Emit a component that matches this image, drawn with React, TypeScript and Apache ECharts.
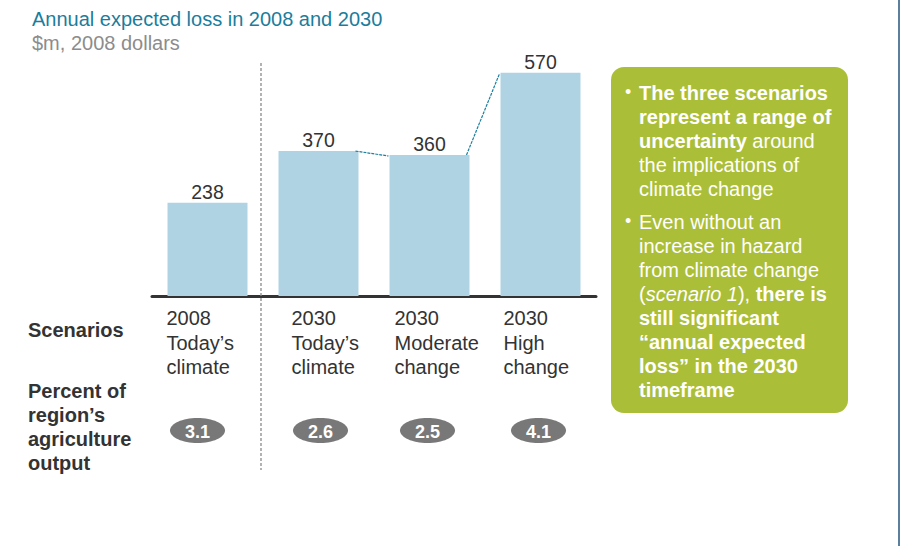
import React, { useEffect, useRef } from "react";
import * as echarts from "echarts";

const categories = [
  "2008\nToday’s\nclimate",
  "2030\nToday’s\nclimate",
  "2030\nModerate\nchange",
  "2030\nHigh\nchange",
];
const expectedLoss = [238, 370, 360, 570];
const agricultureShare = [3.1, 2.6, 2.5, 4.1];
const connectorPairs = [
  [1, 2],
  [2, 3],
];
const titleText = "Annual expected loss in 2008 and 2030";
const unitText = "$m, 2008 dollars";
const scenarioHeader = "Scenarios";
const shareHeader = "Percent of\nregion’s\nagriculture\noutput";
const noteParagraph1 =
  "{b|The three scenarios}\n{b|represent a range of}\n{b|uncertainty}{n| around}\n{n|the implications of}\n{n|climate change}";
const noteParagraph2 =
  "{n|Even without an}\n{n|increase in hazard}\n{n|from climate change}\n{n|(}{i|scenario 1}{n|), }{b|there is}\n{b|still significant}\n{b|“annual expected}\n{b|loss” in the 2030}\n{b|timeframe}";

const FONT = "'Liberation Sans', Arial, Helvetica, sans-serif";
const BAR_W = 80;
const labelNudge = [-41, -27, -35, -37];
const pillNudge = [-10, 2, -2, -2];
const DARK = "#333333";
const WHITE_RICH = {
  b: { fill: "#ffffff", fontWeight: "bold", fontSize: 20, lineHeight: 24, fontFamily: FONT },
  n: { fill: "#ffffff", fontWeight: "normal", fontSize: 20, lineHeight: 24, fontFamily: FONT },
  i: { fill: "#ffffff", fontStyle: "italic", fontSize: 20, lineHeight: 24, fontFamily: FONT },
};

export default function App() {
  const ref = useRef<HTMLDivElement>(null);
  useEffect(() => {
    if (!ref.current) return;
    const chart = echarts.init(ref.current, null, { renderer: "svg" });
    const option: any = {
      animation: false,
      backgroundColor: "#ffffff",
      title: [
        {
          text: titleText,
          left: 27,
          top: 4,
          textStyle: { color: "#1b7d9c", fontSize: 20, fontWeight: "normal", fontFamily: FONT },
        },
        {
          text: unitText,
          left: 27,
          top: 28,
          textStyle: { color: "#8c8c8c", fontSize: 20, fontWeight: "normal", fontFamily: FONT },
        },
      ],
      grid: { left: 152, width: 444, top: 61, bottom: 250 },
      xAxis: {
        type: "category",
        data: categories,
        axisLine: { lineStyle: { color: DARK, width: 3 } },
        axisTick: { show: false },
        axisLabel: { show: false },
      },
      yAxis: { type: "value", min: 0, max: 600, show: false, splitLine: { show: false } },
      series: [
        {
          type: "bar",
          data: expectedLoss,
          barWidth: BAR_W,
          itemStyle: { color: "#b0d3e3" },
          label: {
            show: true,
            position: "top",
            distance: 1,
            color: DARK,
            fontSize: 19.5,
            fontFamily: FONT,
          },
          z: 2,
        },
        {
          type: "custom",
          name: "connectors",
          data: connectorPairs.map(([a, b]) => [a, expectedLoss[a], b, expectedLoss[b]]),
          renderItem: (params: any, api: any) => {
            const p1 = api.coord([api.value(0), api.value(1)]);
            const p2 = api.coord([api.value(2), api.value(3)]);
            return {
              type: "line",
              shape: {
                x1: p1[0] + BAR_W / 2 - 3,
                y1: p1[1],
                x2: p2[0] - BAR_W / 2 - 1,
                y2: p2[1] + 1,
              },
              style: { stroke: "#1a7fa0", lineWidth: 1.2, lineDash: [3, 1] },
              z2: 5,
            };
          },
          z: 3,
        },
        {
          type: "custom",
          name: "labels",
          data: categories.map((_, i) => [i, 0]),
          renderItem: (params: any, api: any) => {
            const i = params.dataIndex;
            const p = api.coord([api.value(0), 0]);
            const pcx = p[0] + pillNudge[i];
            const pcy = p[1] + 134.5;
            return {
              type: "group",
              children: [
                {
                  type: "text",
                  style: {
                    text: categories[i],
                    x: p[0] + labelNudge[i],
                    y: p[1] + 10,
                    fill: DARK,
                    fontSize: 20,
                    fontFamily: FONT,
                    lineHeight: 24.5,
                    align: "left",
                    verticalAlign: "top",
                  },
                },
                {
                  type: "ellipse",
                  shape: { cx: pcx, cy: pcy, rx: 27.5, ry: 12.5 },
                  style: { fill: "#787878" },
                },
                {
                  type: "text",
                  style: {
                    text: agricultureShare[i].toFixed(1),
                    x: pcx,
                    y: pcy + 1,
                    fill: "#ffffff",
                    fontSize: 18,
                    fontWeight: "bold",
                    fontFamily: FONT,
                    align: "center",
                    verticalAlign: "middle",
                  },
                },
              ],
            };
          },
          z: 3,
        },
      ],
      graphic: [
        {
          type: "line",
          shape: { x1: 261, y1: 63, x2: 261, y2: 470 },
          style: { stroke: "#8a8a8a", lineWidth: 1.3, lineDash: [3, 2] },
          z: 1,
        },
        {
          type: "line",
          shape: { x1: 899, y1: 0, x2: 899, y2: 546 },
          style: { stroke: "#5b7f9d", lineWidth: 2 },
        },
        {
          type: "text",
          left: 28,
          top: 320,
          style: { text: scenarioHeader, fill: DARK, fontSize: 20, fontWeight: "bold", fontFamily: FONT },
        },
        {
          type: "text",
          left: 28,
          top: 379,
          style: {
            text: shareHeader,
            fill: DARK,
            fontSize: 20,
            fontWeight: "bold",
            fontFamily: FONT,
            lineHeight: 24,
          },
        },
        {
          type: "rect",
          shape: { x: 611, y: 67, width: 237, height: 346, r: 13 },
          style: { fill: "#aabe38" },
        },
        {
          type: "text",
          x: 625,
          y: 83,
          style: { text: "•", fill: "#ffffff", fontSize: 18, fontFamily: FONT },
        },
        {
          type: "text",
          x: 625,
          y: 212,
          style: { text: "•", fill: "#ffffff", fontSize: 18, fontFamily: FONT },
        },
        {
          type: "text",
          x: 639,
          y: 81,
          style: { text: noteParagraph1, rich: WHITE_RICH, fontSize: 20, fontFamily: FONT, lineHeight: 24 },
        },
        {
          type: "text",
          x: 639,
          y: 210,
          style: { text: noteParagraph2, rich: WHITE_RICH, fontSize: 20, fontFamily: FONT, lineHeight: 24 },
        },
      ],
    };
    chart.setOption(option);
    return () => chart.dispose();
  }, []);
  return (
    <div
      ref={ref}
      style={{ position: "fixed", left: 0, top: 0, width: 905, height: 546, background: "#fff" }}
    />
  );
}
